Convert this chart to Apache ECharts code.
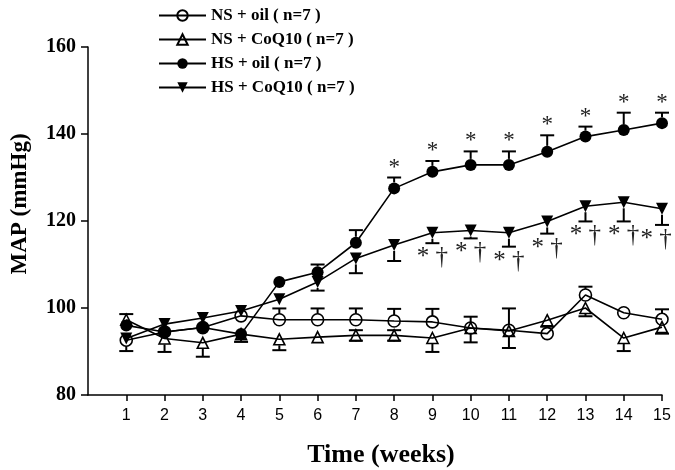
<!DOCTYPE html>
<html><head><meta charset="utf-8">
<script src="https://cdn.jsdelivr.net/npm/echarts@6/dist/echarts.min.js"></script>
<style>html,body{margin:0;padding:0;background:#fff}#c{width:675px;height:470px}</style>
</head><body><div id="c"></div>
<script>
// ---- data ----
const weeks = [1,2,3,4,5,6,7,8,9,10,11,12,13,14,15];
const seriesNames = ['NS + oil ( n=7 )','NS + CoQ10 ( n=7 )','HS + oil ( n=7 )','HS + CoQ10 ( n=7 )'];

const nsOil      = [92.6, 94.5, 95.5, 98.2, 97.3, 97.3, 97.3, 97.0, 96.8, 95.4, 94.9, 94.1, 103.0, 98.9, 97.4];
const nsOilUp    = [0, 0, 0, 0, 2.6, 2.6, 2.6, 2.8, 3.0, 2.6, 5.0, 0, 1.9, 0, 2.3];
const nsOilDown  = [2.5, 0, 0, 0, 0, 0, 0, 0, 0, 0, 0, 0, 0, 0, 0];

const nsCoq      = [97.3, 93.0, 92.0, 94.0, 92.8, 93.3, 93.7, 93.7, 93.1, 95.4, 94.7, 97.2, 100.0, 93.1, 95.6];
const nsCoqUp    = [1.3, 0, 0, 0, 0, 0, 1.2, 1.2, 0, 0, 0, 0, 0, 0, 0];
const nsCoqDown  = [0, 3.1, 3.2, 0, 2.5, 0, 1.2, 1.2, 3.2, 3.3, 3.9, 1.5, 1.9, 3.0, 1.5];

const hsOil      = [96.0, 94.5, 95.5, 94.0, 106.0, 108.2, 115.0, 127.5, 131.3, 132.9, 132.9, 135.9, 139.4, 140.9, 142.5];
const hsOilUp    = [0, 0, 0, 0, 0, 1.8, 2.9, 2.5, 2.5, 3.1, 3.1, 3.8, 2.3, 4.0, 2.4];
const hsOilDown  = [0, 0, 0, 1.8, 0, 0, 0, 0, 0, 0, 0, 0, 0, 0, 0];

const hsCoq      = [93.0, 96.3, 97.7, 99.3, 102.0, 106.0, 111.4, 114.5, 117.3, 117.8, 117.3, 119.9, 123.4, 124.3, 122.8];
const hsCoqUp    = [0, 0, 0, 0, 0, 0, 0, 0, 0, 0, 0, 0, 0, 0, 0];
const hsCoqDown  = [0, 0, 0, 0, 0, 2.0, 3.4, 3.7, 2.4, 1.8, 3.2, 2.8, 3.5, 4.4, 3.7];

const starWeeks = [8,9,10,11,12,13,14,15];          // "*" above HS + oil
const starDaggerWeeks = [9,10,11,12,13,14,15];      // "* †" below HS + CoQ10
const xTickLabels = [1,2,3,4,5,6,7,8,9,10,11,12,13,14,15];
const yTickLabels = [80,100,120,140,160];

// ---- chart ----
const serif = '"Liberation Serif", "Times New Roman", serif';
const chart = echarts.init(document.getElementById('c'), null, {renderer:'canvas'});

function errData(vals, up, dn){ return weeks.map((w,i)=>[w, vals[i], up[i], dn[i]]); }
function errRender(params, api){
  const x = api.value(0), v = api.value(1), up = api.value(2), dn = api.value(3);
  const c = api.coord([x, v]);
  const r = 6, cap = 7;
  const style = {stroke:'#000', lineWidth:2, fill:null};
  const ch = [];
  if (up > 0) {
    const t = api.coord([x, v + up]);
    ch.push({type:'line', shape:{x1:c[0], y1:c[1]-r, x2:c[0], y2:t[1]}, style});
    ch.push({type:'line', shape:{x1:c[0]-cap, y1:t[1], x2:c[0]+cap, y2:t[1]}, style});
  }
  if (dn > 0) {
    const b = api.coord([x, v - dn]);
    ch.push({type:'line', shape:{x1:c[0], y1:c[1]+r, x2:c[0], y2:b[1]}, style});
    ch.push({type:'line', shape:{x1:c[0]-cap, y1:b[1], x2:c[0]+cap, y2:b[1]}, style});
  }
  return {type:'group', children:ch};
}
function errSeries(vals, up, dn){
  return {type:'custom', silent:true, z:1, renderItem:errRender, data:errData(vals, up, dn),
          encode:{x:0, y:1}, clip:false};
}

const starData = starWeeks.map(w => { const i = weeks.indexOf(w); return [w, hsOil[i] + hsOilUp[i]]; });
const daggerData = starDaggerWeeks.map(w => { const i = weeks.indexOf(w); return [w, hsCoq[i] - hsCoqDown[i]]; });

function lineSeries(name, vals, symbol, filled, size, rotate){
  return {
    type:'line', name, data: weeks.map((w,i)=>[w, vals[i]]), z:3,
    symbol, symbolSize:size, symbolRotate: rotate || 0, showAllSymbol:true,
    lineStyle:{color:'#000', width:1.6},
    itemStyle:{color: filled ? '#000' : 'rgba(255,255,255,0)', borderColor:'#000', borderWidth: filled ? 0 : 1.6},
    emphasis:{disabled:true}, animation:false
  };
}

chart.setOption({
  animation:false,
  grid:{left:88, right:13, top:47, bottom:75, containLabel:false},
  legend:{
    orient:'vertical', left:158, top:7, padding:0, itemWidth:47, itemHeight:13, itemGap:7,
    data:seriesNames, selectedMode:false,
    textStyle:{fontFamily:serif, fontWeight:'bold', fontSize:17, color:'#000', lineHeight:17}
  },
  xAxis:{
    type:'value', min:0, max:15, interval:1,
    axisLine:{lineStyle:{color:'#000', width:1.5}},
    axisTick:{show:true, length:6, lineStyle:{color:'#000', width:1.5}, customValues:xTickLabels},
    axisLabel:{customValues:xTickLabels, margin:13, color:'#000', fontSize:16, fontFamily:'"Liberation Sans", Arial, sans-serif'},
    splitLine:{show:false}
  },
  yAxis:{
    type:'value', min:80, max:160, interval:20,
    axisLine:{show:true, lineStyle:{color:'#000', width:1.5}},
    axisTick:{show:true, length:7, lineStyle:{color:'#000', width:1.5}},
    axisLabel:{margin:12, color:'#000', fontSize:20, fontWeight:'bold', fontFamily:serif,
               formatter: v => yTickLabels.includes(v) ? String(v) : ''},
    splitLine:{show:false}
  },
  graphic:[
    {type:'text', x:20, y:204, rotation:Math.PI/2,
     style:{text:'MAP (mmHg)', font:'bold 23px ' + serif, fill:'#000', align:'center', verticalAlign:'middle', textAlign:'center', textVerticalAlign:'middle'}},
    {type:'text', x:381, y:455,
     style:{text:'Time (weeks)', font:'bold 26px ' + serif, fill:'#000', align:'center', verticalAlign:'middle', textAlign:'center', textVerticalAlign:'middle'}}
  ],
  series:[
    errSeries(nsOil, nsOilUp, nsOilDown),
    errSeries(nsCoq, nsCoqUp, nsCoqDown),
    errSeries(hsOil, hsOilUp, hsOilDown),
    errSeries(hsCoq, hsCoqUp, hsCoqDown),
    lineSeries(seriesNames[0], nsOil, 'circle', false, 12),
    lineSeries(seriesNames[1], nsCoq, 'triangle', false, 11),
    lineSeries(seriesNames[2], hsOil, 'circle', true, 12),
    lineSeries(seriesNames[3], hsCoq, 'triangle', true, 12, 180),
    {type:'custom', silent:true, z:4, data:starData, encode:{x:0, y:1}, clip:false,
     renderItem:(p, api) => { const c = api.coord([api.value(0), api.value(1)]);
       return {type:'text', x:c[0], y:c[1]-10,
         style:{text:'*', font:'23px ' + serif, fill:'#222', align:'center', verticalAlign:'middle', textAlign:'center', textVerticalAlign:'middle'}}; }},
    {type:'custom', silent:true, z:4, data:daggerData, encode:{x:0, y:1}, clip:false,
     renderItem:(p, api) => { const c = api.coord([api.value(0), api.value(1)]);
       const xs = Math.min(c[0], p.coordSys.x + p.coordSys.width - 6);
       return {type:'text', x:xs, y:c[1]+2,
         style:{text:'* †', font:'25px ' + serif, fill:'#222', align:'center', verticalAlign:'top', textAlign:'center', textVerticalAlign:'top'}}; }}
  ]
});
</script>
</body></html>
